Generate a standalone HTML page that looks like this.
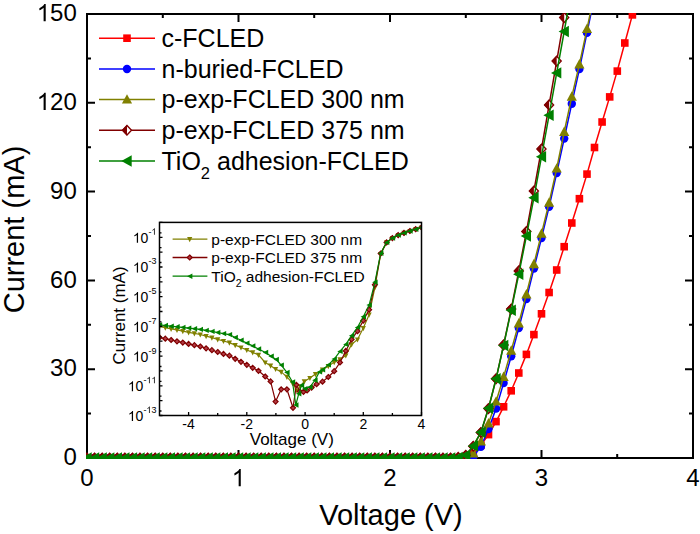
<!DOCTYPE html><html><head><meta charset="utf-8"><style>html,body{margin:0;padding:0;background:#fff;width:700px;height:534px;overflow:hidden}svg{display:block}text{font-family:"Liberation Sans",sans-serif;fill:#000}</style></head><body>
<svg width="700" height="534" viewBox="0 0 700 534">
<defs><clipPath id="cp"><rect x="86" y="13" width="608" height="446"/></clipPath><clipPath id="ci"><rect x="160" y="223" width="261" height="192"/></clipPath></defs>
<rect width="700" height="534" fill="#fff"/>
<g stroke="#000" stroke-width="2" fill="none" stroke-linecap="square">
<rect x="87" y="14" width="606" height="444"/>
<path stroke-linecap="butt" d="M87 458.0h8M693 458.0h-8M87 369.2h8M693 369.2h-8M87 280.4h8M693 280.4h-8M87 191.6h8M693 191.6h-8M87 102.8h8M693 102.8h-8M87 14.0h8M693 14.0h-8M87 413.6h4M693 413.6h-4M87 324.8h4M693 324.8h-4M87 236.0h4M693 236.0h-4M87 147.2h4M693 147.2h-4M87 58.4h4M693 58.4h-4M87.0 458v-8M87.0 14v8M238.5 458v-8M238.5 14v8M390.0 458v-8M390.0 14v8M541.5 458v-8M541.5 14v8M693.0 458v-8M693.0 14v8M162.8 458v-4M162.8 14v4M314.2 458v-4M314.2 14v4M465.8 458v-4M465.8 14v4M617.2 458v-4M617.2 14v4"/>
</g>
<g>
<text x="63.46" y="465.20" font-size="24">0</text>
<text x="50.11" y="376.40" font-size="24">30</text>
<text x="50.11" y="287.60" font-size="24">60</text>
<text x="50.11" y="198.80" font-size="24">90</text>
<path transform="translate(36.77 110.00) scale(0.01172 -0.01172)" d="M763 0L583 0L583 1147Q518 1085 412 1023Q306 961 221 930L221 1104Q372 1175 485 1276Q598 1377 645 1472L763 1472Z"/><text x="50.11" y="110.00" font-size="24">20</text>
<path transform="translate(36.77 21.20) scale(0.01172 -0.01172)" d="M763 0L583 0L583 1147Q518 1085 412 1023Q306 961 221 930L221 1104Q372 1175 485 1276Q598 1377 645 1472L763 1472Z"/><text x="50.11" y="21.20" font-size="24">50</text>
<text x="80.33" y="486.30" font-size="24">0</text>
<path transform="translate(231.83 486.30) scale(0.01172 -0.01172)" d="M763 0L583 0L583 1147Q518 1085 412 1023Q306 961 221 930L221 1104Q372 1175 485 1276Q598 1377 645 1472L763 1472Z"/>
<text x="383.33" y="486.30" font-size="24">2</text>
<text x="534.83" y="486.30" font-size="24">3</text>
<text x="686.33" y="486.30" font-size="24">4</text>
</g>
<text font-size="29" x="391" y="524.8" text-anchor="middle">Voltage (V)</text>
<text font-size="29" transform="translate(24.2 229.5) rotate(-90)" text-anchor="middle">Current (mA)</text>
<rect x="159.5" y="222.4" width="262.0" height="193.1" fill="#fff"/>
<g clip-path="url(#ci)">
<polyline points="159.5,326.6 165.3,327.7 171.1,328.9 177.0,330.0 182.8,331.1 188.6,332.3 194.4,333.4 200.3,334.5 206.1,336.1 211.9,337.7 217.7,339.4 223.5,341.0 229.4,342.6 235.2,345.1 241.0,347.5 246.8,350.0 252.7,352.4 258.5,354.9 265.2,362.5 270.6,365.7 275.6,369.0 281.2,371.9 286.9,376.9 292.5,383.1 296.8,390.5 300.2,386.5 304.3,381.4 309.9,378.0 315.5,374.1 322.5,369.7 328.3,366.2 334.2,362.1 340.0,359.4 345.8,355.5 351.6,344.4 357.5,339.5 363.3,328.1 369.1,314.7 374.9,287.5 380.7,254.0 386.6,242.4 392.4,238.1 398.2,235.1 404.0,232.9 409.9,231.0 415.7,229.2 421.5,227.5" fill="none" stroke="#808000" stroke-width="1.2" stroke-linejoin="round"/>
<path d="M156.9 324.5L162.1 324.5L159.5 329.7Z" fill="#808000"/><path d="M162.7 325.6L167.9 325.6L165.3 330.8Z" fill="#808000"/><path d="M168.5 326.8L173.7 326.8L171.1 332.0Z" fill="#808000"/><path d="M174.4 327.9L179.6 327.9L177.0 333.1Z" fill="#808000"/><path d="M180.2 329.0L185.4 329.0L182.8 334.2Z" fill="#808000"/><path d="M186.0 330.2L191.2 330.2L188.6 335.4Z" fill="#808000"/><path d="M191.8 331.3L197.0 331.3L194.4 336.5Z" fill="#808000"/><path d="M197.7 332.4L202.9 332.4L200.3 337.6Z" fill="#808000"/><path d="M203.5 334.0L208.7 334.0L206.1 339.2Z" fill="#808000"/><path d="M209.3 335.6L214.5 335.6L211.9 340.8Z" fill="#808000"/><path d="M215.1 337.3L220.3 337.3L217.7 342.5Z" fill="#808000"/><path d="M220.9 338.9L226.1 338.9L223.5 344.1Z" fill="#808000"/><path d="M226.8 340.5L232.0 340.5L229.4 345.7Z" fill="#808000"/><path d="M232.6 343.0L237.8 343.0L235.2 348.2Z" fill="#808000"/><path d="M238.4 345.4L243.6 345.4L241.0 350.6Z" fill="#808000"/><path d="M244.2 347.9L249.4 347.9L246.8 353.1Z" fill="#808000"/><path d="M250.1 350.3L255.3 350.3L252.7 355.5Z" fill="#808000"/><path d="M255.9 352.8L261.1 352.8L258.5 358.0Z" fill="#808000"/><path d="M262.6 360.4L267.8 360.4L265.2 365.6Z" fill="#808000"/><path d="M268.0 363.6L273.2 363.6L270.6 368.8Z" fill="#808000"/><path d="M273.0 366.9L278.2 366.9L275.6 372.1Z" fill="#808000"/><path d="M278.6 369.8L283.8 369.8L281.2 375.0Z" fill="#808000"/><path d="M284.3 374.8L289.5 374.8L286.9 380.0Z" fill="#808000"/><path d="M289.9 381.0L295.1 381.0L292.5 386.2Z" fill="#808000"/><path d="M294.2 388.4L299.4 388.4L296.8 393.6Z" fill="#808000"/><path d="M297.6 384.4L302.8 384.4L300.2 389.6Z" fill="#808000"/><path d="M301.7 379.3L306.9 379.3L304.3 384.5Z" fill="#808000"/><path d="M307.3 375.9L312.5 375.9L309.9 381.1Z" fill="#808000"/><path d="M312.9 372.0L318.1 372.0L315.5 377.2Z" fill="#808000"/><path d="M319.9 367.6L325.1 367.6L322.5 372.8Z" fill="#808000"/><path d="M325.7 364.1L330.9 364.1L328.3 369.3Z" fill="#808000"/><path d="M331.6 360.0L336.8 360.0L334.2 365.2Z" fill="#808000"/><path d="M337.4 357.3L342.6 357.3L340.0 362.5Z" fill="#808000"/><path d="M343.2 353.4L348.4 353.4L345.8 358.6Z" fill="#808000"/><path d="M349.0 342.3L354.2 342.3L351.6 347.5Z" fill="#808000"/><path d="M354.9 337.4L360.1 337.4L357.5 342.6Z" fill="#808000"/><path d="M360.7 326.0L365.9 326.0L363.3 331.2Z" fill="#808000"/><path d="M366.5 312.6L371.7 312.6L369.1 317.8Z" fill="#808000"/><path d="M372.3 285.4L377.5 285.4L374.9 290.6Z" fill="#808000"/><path d="M378.1 251.9L383.3 251.9L380.7 257.1Z" fill="#808000"/><path d="M384.0 240.3L389.2 240.3L386.6 245.5Z" fill="#808000"/><path d="M389.8 236.0L395.0 236.0L392.4 241.2Z" fill="#808000"/><path d="M395.6 233.0L400.8 233.0L398.2 238.2Z" fill="#808000"/><path d="M401.4 230.8L406.6 230.8L404.0 236.0Z" fill="#808000"/><path d="M407.3 228.9L412.5 228.9L409.9 234.1Z" fill="#808000"/><path d="M413.1 227.1L418.3 227.1L415.7 232.3Z" fill="#808000"/><path d="M418.9 225.4L424.1 225.4L421.5 230.6Z" fill="#808000"/>
<polyline points="159.5,337.4 165.3,338.7 171.1,340.0 177.0,341.3 182.8,342.6 188.6,343.9 194.4,345.2 200.3,346.5 206.1,348.3 211.9,350.2 217.7,352.0 223.5,353.9 229.4,355.7 235.2,358.8 241.0,361.8 246.8,364.8 252.7,367.8 258.5,370.8 265.2,376.5 270.6,381.4 275.6,401.6 281.2,389.3 286.9,389.3 293.0,407.8 296.4,384.8 299.8,391.5 303.5,391.8 307.1,390.4 311.6,387.6 316.6,384.2 322.5,381.7 328.3,377.0 334.2,371.2 340.0,362.5 345.8,350.9 351.6,339.4 357.5,331.2 363.3,320.6 369.1,309.7 374.9,284.7 380.7,253.5 386.6,242.4 392.4,238.1 398.2,235.1 404.0,232.9 409.9,231.0 415.7,229.2 421.5,227.5" fill="none" stroke="#800000" stroke-width="1.2" stroke-linejoin="round"/>
<path d="M159.5 334.9L162.0 337.4L159.5 339.9L157.0 337.4Z" fill="#b23a44" stroke="#800000" stroke-width="1.2"/><path d="M165.3 336.2L167.8 338.7L165.3 341.2L162.8 338.7Z" fill="#b23a44" stroke="#800000" stroke-width="1.2"/><path d="M171.1 337.5L173.6 340.0L171.1 342.5L168.6 340.0Z" fill="#b23a44" stroke="#800000" stroke-width="1.2"/><path d="M177.0 338.8L179.5 341.3L177.0 343.8L174.5 341.3Z" fill="#b23a44" stroke="#800000" stroke-width="1.2"/><path d="M182.8 340.1L185.3 342.6L182.8 345.1L180.3 342.6Z" fill="#b23a44" stroke="#800000" stroke-width="1.2"/><path d="M188.6 341.4L191.1 343.9L188.6 346.4L186.1 343.9Z" fill="#b23a44" stroke="#800000" stroke-width="1.2"/><path d="M194.4 342.7L196.9 345.2L194.4 347.7L191.9 345.2Z" fill="#b23a44" stroke="#800000" stroke-width="1.2"/><path d="M200.3 344.0L202.8 346.5L200.3 349.0L197.8 346.5Z" fill="#b23a44" stroke="#800000" stroke-width="1.2"/><path d="M206.1 345.8L208.6 348.3L206.1 350.8L203.6 348.3Z" fill="#b23a44" stroke="#800000" stroke-width="1.2"/><path d="M211.9 347.7L214.4 350.2L211.9 352.7L209.4 350.2Z" fill="#b23a44" stroke="#800000" stroke-width="1.2"/><path d="M217.7 349.5L220.2 352.0L217.7 354.5L215.2 352.0Z" fill="#b23a44" stroke="#800000" stroke-width="1.2"/><path d="M223.5 351.4L226.0 353.9L223.5 356.4L221.0 353.9Z" fill="#b23a44" stroke="#800000" stroke-width="1.2"/><path d="M229.4 353.2L231.9 355.7L229.4 358.2L226.9 355.7Z" fill="#b23a44" stroke="#800000" stroke-width="1.2"/><path d="M235.2 356.3L237.7 358.8L235.2 361.3L232.7 358.8Z" fill="#b23a44" stroke="#800000" stroke-width="1.2"/><path d="M241.0 359.3L243.5 361.8L241.0 364.3L238.5 361.8Z" fill="#b23a44" stroke="#800000" stroke-width="1.2"/><path d="M246.8 362.3L249.3 364.8L246.8 367.3L244.3 364.8Z" fill="#b23a44" stroke="#800000" stroke-width="1.2"/><path d="M252.7 365.3L255.2 367.8L252.7 370.3L250.2 367.8Z" fill="#b23a44" stroke="#800000" stroke-width="1.2"/><path d="M258.5 368.3L261.0 370.8L258.5 373.3L256.0 370.8Z" fill="#b23a44" stroke="#800000" stroke-width="1.2"/><path d="M265.2 374.0L267.7 376.5L265.2 379.0L262.7 376.5Z" fill="#b23a44" stroke="#800000" stroke-width="1.2"/><path d="M270.6 378.9L273.1 381.4L270.6 383.9L268.1 381.4Z" fill="#b23a44" stroke="#800000" stroke-width="1.2"/><path d="M275.6 399.1L278.1 401.6L275.6 404.1L273.1 401.6Z" fill="#b23a44" stroke="#800000" stroke-width="1.2"/><path d="M281.2 386.8L283.7 389.3L281.2 391.8L278.7 389.3Z" fill="#b23a44" stroke="#800000" stroke-width="1.2"/><path d="M286.9 386.8L289.4 389.3L286.9 391.8L284.4 389.3Z" fill="#b23a44" stroke="#800000" stroke-width="1.2"/><path d="M293.0 405.3L295.5 407.8L293.0 410.3L290.5 407.8Z" fill="#b23a44" stroke="#800000" stroke-width="1.2"/><path d="M296.4 382.3L298.9 384.8L296.4 387.3L293.9 384.8Z" fill="#b23a44" stroke="#800000" stroke-width="1.2"/><path d="M299.8 389.0L302.3 391.5L299.8 394.0L297.3 391.5Z" fill="#b23a44" stroke="#800000" stroke-width="1.2"/><path d="M303.5 389.3L306.0 391.8L303.5 394.3L301.0 391.8Z" fill="#b23a44" stroke="#800000" stroke-width="1.2"/><path d="M307.1 387.9L309.6 390.4L307.1 392.9L304.6 390.4Z" fill="#b23a44" stroke="#800000" stroke-width="1.2"/><path d="M311.6 385.1L314.1 387.6L311.6 390.1L309.1 387.6Z" fill="#b23a44" stroke="#800000" stroke-width="1.2"/><path d="M316.6 381.7L319.1 384.2L316.6 386.7L314.1 384.2Z" fill="#b23a44" stroke="#800000" stroke-width="1.2"/><path d="M322.5 379.2L325.0 381.7L322.5 384.2L320.0 381.7Z" fill="#b23a44" stroke="#800000" stroke-width="1.2"/><path d="M328.3 374.5L330.8 377.0L328.3 379.5L325.8 377.0Z" fill="#b23a44" stroke="#800000" stroke-width="1.2"/><path d="M334.2 368.7L336.7 371.2L334.2 373.7L331.7 371.2Z" fill="#b23a44" stroke="#800000" stroke-width="1.2"/><path d="M340.0 360.0L342.5 362.5L340.0 365.0L337.5 362.5Z" fill="#b23a44" stroke="#800000" stroke-width="1.2"/><path d="M345.8 348.4L348.3 350.9L345.8 353.4L343.3 350.9Z" fill="#b23a44" stroke="#800000" stroke-width="1.2"/><path d="M351.6 336.9L354.1 339.4L351.6 341.9L349.1 339.4Z" fill="#b23a44" stroke="#800000" stroke-width="1.2"/><path d="M357.5 328.7L360.0 331.2L357.5 333.7L355.0 331.2Z" fill="#b23a44" stroke="#800000" stroke-width="1.2"/><path d="M363.3 318.1L365.8 320.6L363.3 323.1L360.8 320.6Z" fill="#b23a44" stroke="#800000" stroke-width="1.2"/><path d="M369.1 307.2L371.6 309.7L369.1 312.2L366.6 309.7Z" fill="#b23a44" stroke="#800000" stroke-width="1.2"/><path d="M374.9 282.2L377.4 284.7L374.9 287.2L372.4 284.7Z" fill="#b23a44" stroke="#800000" stroke-width="1.2"/><path d="M380.7 251.0L383.2 253.5L380.7 256.0L378.2 253.5Z" fill="#b23a44" stroke="#800000" stroke-width="1.2"/><path d="M386.6 239.9L389.1 242.4L386.6 244.9L384.1 242.4Z" fill="#b23a44" stroke="#800000" stroke-width="1.2"/><path d="M392.4 235.6L394.9 238.1L392.4 240.6L389.9 238.1Z" fill="#b23a44" stroke="#800000" stroke-width="1.2"/><path d="M398.2 232.6L400.7 235.1L398.2 237.6L395.7 235.1Z" fill="#b23a44" stroke="#800000" stroke-width="1.2"/><path d="M404.0 230.4L406.5 232.9L404.0 235.4L401.5 232.9Z" fill="#b23a44" stroke="#800000" stroke-width="1.2"/><path d="M409.9 228.5L412.4 231.0L409.9 233.5L407.4 231.0Z" fill="#b23a44" stroke="#800000" stroke-width="1.2"/><path d="M415.7 226.7L418.2 229.2L415.7 231.7L413.2 229.2Z" fill="#b23a44" stroke="#800000" stroke-width="1.2"/><path d="M421.5 225.0L424.0 227.5L421.5 230.0L419.0 227.5Z" fill="#b23a44" stroke="#800000" stroke-width="1.2"/>
<polyline points="159.5,324.9 165.3,325.5 171.1,326.2 177.0,326.8 182.8,327.4 188.6,328.1 194.4,328.7 200.3,329.4 206.1,330.4 211.9,331.4 217.7,332.5 223.5,333.6 229.4,334.6 235.2,337.5 241.0,340.3 246.8,343.1 252.7,345.9 258.5,349.0 265.5,352.5 271.1,356.2 276.2,359.5 281.2,365.1 286.9,372.4 292.5,382.0 295.8,405.0 298.7,393.8 301.5,385.3 304.8,388.7 309.9,387.0 314.9,380.3 319.4,371.9 322.5,369.8 328.3,364.9 334.2,359.1 340.0,351.4 345.8,344.4 351.6,335.7 357.5,327.4 363.3,316.8 369.1,305.1 374.9,282.3 380.7,253.2 386.6,242.4 392.4,238.1 398.2,235.1 404.0,232.9 409.9,231.0 415.7,229.2 421.5,227.5" fill="none" stroke="#008000" stroke-width="1.2" stroke-linejoin="round"/>
<path d="M156.8 324.9L162.2 322.2L162.2 327.6Z" fill="#008000"/><path d="M162.6 325.5L168.0 322.8L168.0 328.2Z" fill="#008000"/><path d="M168.4 326.2L173.8 323.5L173.8 328.9Z" fill="#008000"/><path d="M174.3 326.8L179.7 324.1L179.7 329.5Z" fill="#008000"/><path d="M180.1 327.4L185.5 324.7L185.5 330.1Z" fill="#008000"/><path d="M185.9 328.1L191.3 325.4L191.3 330.8Z" fill="#008000"/><path d="M191.7 328.7L197.1 326.0L197.1 331.4Z" fill="#008000"/><path d="M197.6 329.4L203.0 326.7L203.0 332.1Z" fill="#008000"/><path d="M203.4 330.4L208.8 327.7L208.8 333.1Z" fill="#008000"/><path d="M209.2 331.4L214.6 328.7L214.6 334.1Z" fill="#008000"/><path d="M215.0 332.5L220.4 329.8L220.4 335.2Z" fill="#008000"/><path d="M220.8 333.6L226.2 330.9L226.2 336.3Z" fill="#008000"/><path d="M226.7 334.6L232.1 331.9L232.1 337.3Z" fill="#008000"/><path d="M232.5 337.5L237.9 334.8L237.9 340.2Z" fill="#008000"/><path d="M238.3 340.3L243.7 337.6L243.7 343.0Z" fill="#008000"/><path d="M244.1 343.1L249.5 340.4L249.5 345.8Z" fill="#008000"/><path d="M250.0 345.9L255.4 343.2L255.4 348.6Z" fill="#008000"/><path d="M255.8 349.0L261.2 346.3L261.2 351.7Z" fill="#008000"/><path d="M262.8 352.5L268.2 349.8L268.2 355.2Z" fill="#008000"/><path d="M268.4 356.2L273.8 353.5L273.8 358.9Z" fill="#008000"/><path d="M273.5 359.5L278.9 356.8L278.9 362.2Z" fill="#008000"/><path d="M278.5 365.1L283.9 362.4L283.9 367.8Z" fill="#008000"/><path d="M284.2 372.4L289.6 369.7L289.6 375.1Z" fill="#008000"/><path d="M289.8 382.0L295.2 379.3L295.2 384.7Z" fill="#008000"/><path d="M293.1 405.0L298.5 402.3L298.5 407.7Z" fill="#008000"/><path d="M296.0 393.8L301.4 391.1L301.4 396.5Z" fill="#008000"/><path d="M298.8 385.3L304.2 382.6L304.2 388.0Z" fill="#008000"/><path d="M302.1 388.7L307.5 386.0L307.5 391.4Z" fill="#008000"/><path d="M307.2 387.0L312.6 384.3L312.6 389.7Z" fill="#008000"/><path d="M312.2 380.3L317.6 377.6L317.6 383.0Z" fill="#008000"/><path d="M316.7 371.9L322.1 369.2L322.1 374.6Z" fill="#008000"/><path d="M319.8 369.8L325.2 367.1L325.2 372.5Z" fill="#008000"/><path d="M325.6 364.9L331.0 362.2L331.0 367.6Z" fill="#008000"/><path d="M331.5 359.1L336.9 356.4L336.9 361.8Z" fill="#008000"/><path d="M337.3 351.4L342.7 348.7L342.7 354.1Z" fill="#008000"/><path d="M343.1 344.4L348.5 341.7L348.5 347.1Z" fill="#008000"/><path d="M348.9 335.7L354.3 333.0L354.3 338.4Z" fill="#008000"/><path d="M354.8 327.4L360.2 324.7L360.2 330.1Z" fill="#008000"/><path d="M360.6 316.8L366.0 314.1L366.0 319.5Z" fill="#008000"/><path d="M366.4 305.1L371.8 302.4L371.8 307.8Z" fill="#008000"/><path d="M372.2 282.3L377.6 279.6L377.6 285.0Z" fill="#008000"/><path d="M378.0 253.2L383.4 250.5L383.4 255.9Z" fill="#008000"/><path d="M383.9 242.4L389.3 239.7L389.3 245.1Z" fill="#008000"/><path d="M389.7 238.1L395.1 235.4L395.1 240.8Z" fill="#008000"/><path d="M395.5 235.1L400.9 232.4L400.9 237.8Z" fill="#008000"/><path d="M401.3 232.9L406.7 230.2L406.7 235.6Z" fill="#008000"/><path d="M407.2 231.0L412.6 228.3L412.6 233.7Z" fill="#008000"/><path d="M413.0 229.2L418.4 226.5L418.4 231.9Z" fill="#008000"/><path d="M418.8 227.5L424.2 224.8L424.2 230.2Z" fill="#008000"/>
</g>
<path d="M159.5 222.4h3M159.5 232.8h2M159.5 237.3h3M159.5 247.6h2M159.5 252.1h3M159.5 262.5h2M159.5 267.0h3M159.5 277.3h2M159.5 281.8h3M159.5 292.2h2M159.5 296.7h3M159.5 307.1h2M159.5 311.5h3M159.5 321.9h2M159.5 326.4h3M159.5 336.8h2M159.5 341.2h3M159.5 351.6h2M159.5 356.1h3M159.5 366.5h2M159.5 370.9h3M159.5 381.3h2M159.5 385.8h3M159.5 396.2h2M159.5 400.6h3M159.5 411.0h2M159.5 415.5h3M188.6 415.5v-3.5M246.8 415.5v-3.5M305.1 415.5v-3.5M363.3 415.5v-3.5M421.5 415.5v-3.5M217.7 415.5v-2.5M275.9 415.5v-2.5M334.2 415.5v-2.5M392.4 415.5v-2.5" stroke="#000" stroke-width="1.3" fill="none"/>
<rect x="159.5" y="222.4" width="262.0" height="193.1" fill="none" stroke="#000" stroke-width="1.5"/>
<g font-size="14">
<path transform="translate(132.83 242.75) scale(0.00684 -0.00684)" d="M763 0L583 0L583 1147Q518 1085 412 1023Q306 961 221 930L221 1104Q372 1175 485 1276Q598 1377 645 1472L763 1472Z"/><text x="140.62" y="242.75" font-size="14">0</text><text x="148.40" y="234.75" font-size="9">-</text><path transform="translate(151.40 234.75) scale(0.00439 -0.00439)" d="M763 0L583 0L583 1147Q518 1085 412 1023Q306 961 221 930L221 1104Q372 1175 485 1276Q598 1377 645 1472L763 1472Z"/>
<path transform="translate(132.83 272.46) scale(0.00684 -0.00684)" d="M763 0L583 0L583 1147Q518 1085 412 1023Q306 961 221 930L221 1104Q372 1175 485 1276Q598 1377 645 1472L763 1472Z"/><text x="140.62" y="272.46" font-size="14">0</text><text x="148.40" y="264.46" font-size="9">-3</text>
<path transform="translate(132.83 302.17) scale(0.00684 -0.00684)" d="M763 0L583 0L583 1147Q518 1085 412 1023Q306 961 221 930L221 1104Q372 1175 485 1276Q598 1377 645 1472L763 1472Z"/><text x="140.62" y="302.17" font-size="14">0</text><text x="148.40" y="294.17" font-size="9">-5</text>
<path transform="translate(132.83 331.88) scale(0.00684 -0.00684)" d="M763 0L583 0L583 1147Q518 1085 412 1023Q306 961 221 930L221 1104Q372 1175 485 1276Q598 1377 645 1472L763 1472Z"/><text x="140.62" y="331.88" font-size="14">0</text><text x="148.40" y="323.88" font-size="9">-7</text>
<path transform="translate(132.83 361.58) scale(0.00684 -0.00684)" d="M763 0L583 0L583 1147Q518 1085 412 1023Q306 961 221 930L221 1104Q372 1175 485 1276Q598 1377 645 1472L763 1472Z"/><text x="140.62" y="361.58" font-size="14">0</text><text x="148.40" y="353.58" font-size="9">-9</text>
<path transform="translate(127.83 391.29) scale(0.00684 -0.00684)" d="M763 0L583 0L583 1147Q518 1085 412 1023Q306 961 221 930L221 1104Q372 1175 485 1276Q598 1377 645 1472L763 1472Z"/><text x="135.61" y="391.29" font-size="14">0</text><text x="143.39" y="383.29" font-size="9">-</text><path transform="translate(146.39 383.29) scale(0.00439 -0.00439)" d="M763 0L583 0L583 1147Q518 1085 412 1023Q306 961 221 930L221 1104Q372 1175 485 1276Q598 1377 645 1472L763 1472Z"/><path transform="translate(151.40 383.29) scale(0.00439 -0.00439)" d="M763 0L583 0L583 1147Q518 1085 412 1023Q306 961 221 930L221 1104Q372 1175 485 1276Q598 1377 645 1472L763 1472Z"/>
<path transform="translate(127.83 421.00) scale(0.00684 -0.00684)" d="M763 0L583 0L583 1147Q518 1085 412 1023Q306 961 221 930L221 1104Q372 1175 485 1276Q598 1377 645 1472L763 1472Z"/><text x="135.61" y="421.00" font-size="14">0</text><text x="143.39" y="413.00" font-size="9">-</text><path transform="translate(146.39 413.00) scale(0.00439 -0.00439)" d="M763 0L583 0L583 1147Q518 1085 412 1023Q306 961 221 930L221 1104Q372 1175 485 1276Q598 1377 645 1472L763 1472Z"/><text x="151.40" y="413.00" font-size="9">3</text>
<text x="188.6" y="428.6" text-anchor="middle">-4</text>
<text x="246.8" y="428.6" text-anchor="middle">-2</text>
<text x="305.1" y="428.6" text-anchor="middle">0</text>
<text x="363.3" y="428.6" text-anchor="middle">2</text>
<text x="421.5" y="428.6" text-anchor="middle">4</text>
</g>
<text font-size="17" x="291.8" y="444.7" text-anchor="middle">Voltage (V)</text>
<text font-size="17" transform="translate(125.4 315.5) rotate(-90)" text-anchor="middle">Current (mA)</text>
<path d="M172.6 239.1H207.4" stroke="#808000" stroke-width="1.3"/>
<path d="M187.1 237.0L192.3 237.0L189.7 242.2Z" fill="#808000"/>
<text font-size="15.5" x="211.3" y="244.6">p-exp-FCLED 300 nm</text>
<path d="M172.6 257.5H207.4" stroke="#800000" stroke-width="1.3"/>
<path d="M189.7 255.0L192.2 257.5L189.7 260.0L187.2 257.5Z" fill="#b23a44" stroke="#800000" stroke-width="1.2"/>
<text font-size="15.5" x="211.3" y="263.0">p-exp-FCLED 375 nm</text>
<path d="M172.6 276.2H207.4" stroke="#008000" stroke-width="1.3"/>
<path d="M187.0 276.2L192.4 273.5L192.4 278.9Z" fill="#008000"/>
<text font-size="15.5" x="211.3" y="281.7">TiO<tspan font-size="10.5" dy="5">2</tspan><tspan dy="-5"> adhesion-FCLED</tspan></text>
<g clip-path="url(#cp)">
<polyline points="87.0,458.0 94.6,458.0 102.2,458.0 109.7,458.0 117.3,458.0 124.9,458.0 132.5,458.0 140.0,458.0 147.6,458.0 155.2,458.0 162.8,458.0 170.3,458.0 177.9,458.0 185.5,458.0 193.1,458.0 200.6,458.0 208.2,458.0 215.8,458.0 223.3,458.0 230.9,458.0 238.5,458.0 246.1,458.0 253.7,458.0 261.2,458.0 268.8,458.0 276.4,458.0 284.0,458.0 291.5,458.0 299.1,458.0 306.7,458.0 314.2,458.0 321.8,458.0 329.4,458.0 337.0,458.0 344.6,458.0 352.1,458.0 359.7,458.0 367.3,458.0 374.9,458.0 382.4,458.0 390.0,458.0 397.6,458.0 405.2,458.0 412.7,458.0 420.3,458.0 427.9,458.0 435.5,458.0 443.0,458.0 450.6,458.0 458.2,457.7 465.8,456.8 473.3,453.3 480.9,445.3 488.5,434.6 496.1,421.6 503.6,406.8 511.2,390.8 518.8,373.0 526.4,354.4 533.9,334.6 541.5,313.8 549.1,292.5 556.7,270.0 564.2,246.7 571.8,223.0 579.4,198.7 587.0,174.1 594.5,147.5 602.1,122.0 609.7,96.9 617.2,71.1 624.8,43.0 632.4,14.9 640.0,-14.1" fill="none" stroke="#ff0000" stroke-width="1.5" stroke-linejoin="round"/>
<rect x="83.2" y="454.2" width="7.6" height="7.6" fill="#ff0000"/><rect x="90.8" y="454.2" width="7.6" height="7.6" fill="#ff0000"/><rect x="98.4" y="454.2" width="7.6" height="7.6" fill="#ff0000"/><rect x="105.9" y="454.2" width="7.6" height="7.6" fill="#ff0000"/><rect x="113.5" y="454.2" width="7.6" height="7.6" fill="#ff0000"/><rect x="121.1" y="454.2" width="7.6" height="7.6" fill="#ff0000"/><rect x="128.7" y="454.2" width="7.6" height="7.6" fill="#ff0000"/><rect x="136.2" y="454.2" width="7.6" height="7.6" fill="#ff0000"/><rect x="143.8" y="454.2" width="7.6" height="7.6" fill="#ff0000"/><rect x="151.4" y="454.2" width="7.6" height="7.6" fill="#ff0000"/><rect x="158.9" y="454.2" width="7.6" height="7.6" fill="#ff0000"/><rect x="166.5" y="454.2" width="7.6" height="7.6" fill="#ff0000"/><rect x="174.1" y="454.2" width="7.6" height="7.6" fill="#ff0000"/><rect x="181.7" y="454.2" width="7.6" height="7.6" fill="#ff0000"/><rect x="189.2" y="454.2" width="7.6" height="7.6" fill="#ff0000"/><rect x="196.8" y="454.2" width="7.6" height="7.6" fill="#ff0000"/><rect x="204.4" y="454.2" width="7.6" height="7.6" fill="#ff0000"/><rect x="212.0" y="454.2" width="7.6" height="7.6" fill="#ff0000"/><rect x="219.5" y="454.2" width="7.6" height="7.6" fill="#ff0000"/><rect x="227.1" y="454.2" width="7.6" height="7.6" fill="#ff0000"/><rect x="234.7" y="454.2" width="7.6" height="7.6" fill="#ff0000"/><rect x="242.3" y="454.2" width="7.6" height="7.6" fill="#ff0000"/><rect x="249.8" y="454.2" width="7.6" height="7.6" fill="#ff0000"/><rect x="257.4" y="454.2" width="7.6" height="7.6" fill="#ff0000"/><rect x="265.0" y="454.2" width="7.6" height="7.6" fill="#ff0000"/><rect x="272.6" y="454.2" width="7.6" height="7.6" fill="#ff0000"/><rect x="280.2" y="454.2" width="7.6" height="7.6" fill="#ff0000"/><rect x="287.7" y="454.2" width="7.6" height="7.6" fill="#ff0000"/><rect x="295.3" y="454.2" width="7.6" height="7.6" fill="#ff0000"/><rect x="302.9" y="454.2" width="7.6" height="7.6" fill="#ff0000"/><rect x="310.4" y="454.2" width="7.6" height="7.6" fill="#ff0000"/><rect x="318.0" y="454.2" width="7.6" height="7.6" fill="#ff0000"/><rect x="325.6" y="454.2" width="7.6" height="7.6" fill="#ff0000"/><rect x="333.2" y="454.2" width="7.6" height="7.6" fill="#ff0000"/><rect x="340.8" y="454.2" width="7.6" height="7.6" fill="#ff0000"/><rect x="348.3" y="454.2" width="7.6" height="7.6" fill="#ff0000"/><rect x="355.9" y="454.2" width="7.6" height="7.6" fill="#ff0000"/><rect x="363.5" y="454.2" width="7.6" height="7.6" fill="#ff0000"/><rect x="371.1" y="454.2" width="7.6" height="7.6" fill="#ff0000"/><rect x="378.6" y="454.2" width="7.6" height="7.6" fill="#ff0000"/><rect x="386.2" y="454.2" width="7.6" height="7.6" fill="#ff0000"/><rect x="393.8" y="454.2" width="7.6" height="7.6" fill="#ff0000"/><rect x="401.4" y="454.2" width="7.6" height="7.6" fill="#ff0000"/><rect x="408.9" y="454.2" width="7.6" height="7.6" fill="#ff0000"/><rect x="416.5" y="454.2" width="7.6" height="7.6" fill="#ff0000"/><rect x="424.1" y="454.2" width="7.6" height="7.6" fill="#ff0000"/><rect x="431.7" y="454.2" width="7.6" height="7.6" fill="#ff0000"/><rect x="439.2" y="454.2" width="7.6" height="7.6" fill="#ff0000"/><rect x="446.8" y="454.2" width="7.6" height="7.6" fill="#ff0000"/><rect x="454.4" y="453.9" width="7.6" height="7.6" fill="#ff0000"/><rect x="461.9" y="453.0" width="7.6" height="7.6" fill="#ff0000"/><rect x="469.5" y="449.5" width="7.6" height="7.6" fill="#ff0000"/><rect x="477.1" y="441.5" width="7.6" height="7.6" fill="#ff0000"/><rect x="484.7" y="430.8" width="7.6" height="7.6" fill="#ff0000"/><rect x="492.2" y="417.8" width="7.6" height="7.6" fill="#ff0000"/><rect x="499.8" y="403.0" width="7.6" height="7.6" fill="#ff0000"/><rect x="507.4" y="387.0" width="7.6" height="7.6" fill="#ff0000"/><rect x="515.0" y="369.2" width="7.6" height="7.6" fill="#ff0000"/><rect x="522.6" y="350.6" width="7.6" height="7.6" fill="#ff0000"/><rect x="530.1" y="330.8" width="7.6" height="7.6" fill="#ff0000"/><rect x="537.7" y="310.0" width="7.6" height="7.6" fill="#ff0000"/><rect x="545.3" y="288.7" width="7.6" height="7.6" fill="#ff0000"/><rect x="552.9" y="266.2" width="7.6" height="7.6" fill="#ff0000"/><rect x="560.4" y="242.9" width="7.6" height="7.6" fill="#ff0000"/><rect x="568.0" y="219.2" width="7.6" height="7.6" fill="#ff0000"/><rect x="575.6" y="194.9" width="7.6" height="7.6" fill="#ff0000"/><rect x="583.2" y="170.3" width="7.6" height="7.6" fill="#ff0000"/><rect x="590.7" y="143.7" width="7.6" height="7.6" fill="#ff0000"/><rect x="598.3" y="118.2" width="7.6" height="7.6" fill="#ff0000"/><rect x="605.9" y="93.1" width="7.6" height="7.6" fill="#ff0000"/><rect x="613.5" y="67.3" width="7.6" height="7.6" fill="#ff0000"/><rect x="621.0" y="39.2" width="7.6" height="7.6" fill="#ff0000"/><rect x="628.6" y="11.1" width="7.6" height="7.6" fill="#ff0000"/><rect x="636.2" y="-17.9" width="7.6" height="7.6" fill="#ff0000"/>
<polyline points="87.0,458.0 94.6,458.0 102.2,458.0 109.7,458.0 117.3,458.0 124.9,458.0 132.5,458.0 140.0,458.0 147.6,458.0 155.2,458.0 162.8,458.0 170.3,458.0 177.9,458.0 185.5,458.0 193.1,458.0 200.6,458.0 208.2,458.0 215.8,458.0 223.3,458.0 230.9,458.0 238.5,458.0 246.1,458.0 253.7,458.0 261.2,458.0 268.8,458.0 276.4,458.0 284.0,458.0 291.5,458.0 299.1,458.0 306.7,458.0 314.2,458.0 321.8,458.0 329.4,458.0 337.0,458.0 344.6,458.0 352.1,458.0 359.7,458.0 367.3,458.0 374.9,458.0 382.4,458.0 390.0,458.0 397.6,458.0 405.2,458.0 412.7,458.0 420.3,458.0 427.9,458.0 435.5,458.0 443.0,458.0 450.6,458.0 458.2,458.0 465.8,457.9 473.3,456.5 480.9,446.8 488.5,429.0 496.1,408.6 503.6,383.1 511.2,356.2 518.8,328.1 526.4,299.0 533.9,268.6 541.5,238.1 549.1,206.7 556.7,173.0 564.2,138.6 571.8,103.7 579.4,69.1 587.0,32.9 594.5,-3.8" fill="none" stroke="#0000ff" stroke-width="1.5" stroke-linejoin="round"/>
<circle cx="87.0" cy="458.0" r="4.2" fill="#0000ff"/><circle cx="94.6" cy="458.0" r="4.2" fill="#0000ff"/><circle cx="102.2" cy="458.0" r="4.2" fill="#0000ff"/><circle cx="109.7" cy="458.0" r="4.2" fill="#0000ff"/><circle cx="117.3" cy="458.0" r="4.2" fill="#0000ff"/><circle cx="124.9" cy="458.0" r="4.2" fill="#0000ff"/><circle cx="132.5" cy="458.0" r="4.2" fill="#0000ff"/><circle cx="140.0" cy="458.0" r="4.2" fill="#0000ff"/><circle cx="147.6" cy="458.0" r="4.2" fill="#0000ff"/><circle cx="155.2" cy="458.0" r="4.2" fill="#0000ff"/><circle cx="162.8" cy="458.0" r="4.2" fill="#0000ff"/><circle cx="170.3" cy="458.0" r="4.2" fill="#0000ff"/><circle cx="177.9" cy="458.0" r="4.2" fill="#0000ff"/><circle cx="185.5" cy="458.0" r="4.2" fill="#0000ff"/><circle cx="193.1" cy="458.0" r="4.2" fill="#0000ff"/><circle cx="200.6" cy="458.0" r="4.2" fill="#0000ff"/><circle cx="208.2" cy="458.0" r="4.2" fill="#0000ff"/><circle cx="215.8" cy="458.0" r="4.2" fill="#0000ff"/><circle cx="223.3" cy="458.0" r="4.2" fill="#0000ff"/><circle cx="230.9" cy="458.0" r="4.2" fill="#0000ff"/><circle cx="238.5" cy="458.0" r="4.2" fill="#0000ff"/><circle cx="246.1" cy="458.0" r="4.2" fill="#0000ff"/><circle cx="253.7" cy="458.0" r="4.2" fill="#0000ff"/><circle cx="261.2" cy="458.0" r="4.2" fill="#0000ff"/><circle cx="268.8" cy="458.0" r="4.2" fill="#0000ff"/><circle cx="276.4" cy="458.0" r="4.2" fill="#0000ff"/><circle cx="284.0" cy="458.0" r="4.2" fill="#0000ff"/><circle cx="291.5" cy="458.0" r="4.2" fill="#0000ff"/><circle cx="299.1" cy="458.0" r="4.2" fill="#0000ff"/><circle cx="306.7" cy="458.0" r="4.2" fill="#0000ff"/><circle cx="314.2" cy="458.0" r="4.2" fill="#0000ff"/><circle cx="321.8" cy="458.0" r="4.2" fill="#0000ff"/><circle cx="329.4" cy="458.0" r="4.2" fill="#0000ff"/><circle cx="337.0" cy="458.0" r="4.2" fill="#0000ff"/><circle cx="344.6" cy="458.0" r="4.2" fill="#0000ff"/><circle cx="352.1" cy="458.0" r="4.2" fill="#0000ff"/><circle cx="359.7" cy="458.0" r="4.2" fill="#0000ff"/><circle cx="367.3" cy="458.0" r="4.2" fill="#0000ff"/><circle cx="374.9" cy="458.0" r="4.2" fill="#0000ff"/><circle cx="382.4" cy="458.0" r="4.2" fill="#0000ff"/><circle cx="390.0" cy="458.0" r="4.2" fill="#0000ff"/><circle cx="397.6" cy="458.0" r="4.2" fill="#0000ff"/><circle cx="405.2" cy="458.0" r="4.2" fill="#0000ff"/><circle cx="412.7" cy="458.0" r="4.2" fill="#0000ff"/><circle cx="420.3" cy="458.0" r="4.2" fill="#0000ff"/><circle cx="427.9" cy="458.0" r="4.2" fill="#0000ff"/><circle cx="435.5" cy="458.0" r="4.2" fill="#0000ff"/><circle cx="443.0" cy="458.0" r="4.2" fill="#0000ff"/><circle cx="450.6" cy="458.0" r="4.2" fill="#0000ff"/><circle cx="458.2" cy="458.0" r="4.2" fill="#0000ff"/><circle cx="465.8" cy="457.9" r="4.2" fill="#0000ff"/><circle cx="473.3" cy="456.5" r="4.2" fill="#0000ff"/><circle cx="480.9" cy="446.8" r="4.2" fill="#0000ff"/><circle cx="488.5" cy="429.0" r="4.2" fill="#0000ff"/><circle cx="496.1" cy="408.6" r="4.2" fill="#0000ff"/><circle cx="503.6" cy="383.1" r="4.2" fill="#0000ff"/><circle cx="511.2" cy="356.2" r="4.2" fill="#0000ff"/><circle cx="518.8" cy="328.1" r="4.2" fill="#0000ff"/><circle cx="526.4" cy="299.0" r="4.2" fill="#0000ff"/><circle cx="533.9" cy="268.6" r="4.2" fill="#0000ff"/><circle cx="541.5" cy="238.1" r="4.2" fill="#0000ff"/><circle cx="549.1" cy="206.7" r="4.2" fill="#0000ff"/><circle cx="556.7" cy="173.0" r="4.2" fill="#0000ff"/><circle cx="564.2" cy="138.6" r="4.2" fill="#0000ff"/><circle cx="571.8" cy="103.7" r="4.2" fill="#0000ff"/><circle cx="579.4" cy="69.1" r="4.2" fill="#0000ff"/><circle cx="587.0" cy="32.9" r="4.2" fill="#0000ff"/><circle cx="594.5" cy="-3.8" r="4.2" fill="#0000ff"/>
<polyline points="87.0,458.0 94.6,458.0 102.2,458.0 109.7,458.0 117.3,458.0 124.9,458.0 132.5,458.0 140.0,458.0 147.6,458.0 155.2,458.0 162.8,458.0 170.3,458.0 177.9,458.0 185.5,458.0 193.1,458.0 200.6,458.0 208.2,458.0 215.8,458.0 223.3,458.0 230.9,458.0 238.5,458.0 246.1,458.0 253.7,458.0 261.2,458.0 268.8,458.0 276.4,458.0 284.0,458.0 291.5,458.0 299.1,458.0 306.7,458.0 314.2,458.0 321.8,458.0 329.4,458.0 337.0,458.0 344.6,458.0 352.1,458.0 359.7,458.0 367.3,458.0 374.9,458.0 382.4,458.0 390.0,458.0 397.6,458.0 405.2,458.0 412.7,458.0 420.3,458.0 427.9,458.0 435.5,458.0 443.0,458.0 450.6,458.0 458.2,458.0 465.8,457.1 473.3,453.3 480.9,441.4 488.5,423.4 496.1,401.5 503.6,376.9 511.2,350.6 518.8,323.3 526.4,294.3 533.9,264.1 541.5,233.6 549.1,202.6 556.7,168.5 564.2,131.8 571.8,96.6 579.4,64.3 587.0,28.8 594.5,-6.7" fill="none" stroke="#808000" stroke-width="1.5" stroke-linejoin="round"/>
<path d="M87.0 452.7L92.1 462.1L81.9 462.1Z" fill="#808000"/><path d="M94.6 452.7L99.7 462.1L89.5 462.1Z" fill="#808000"/><path d="M102.2 452.7L107.2 462.1L97.1 462.1Z" fill="#808000"/><path d="M109.7 452.7L114.8 462.1L104.6 462.1Z" fill="#808000"/><path d="M117.3 452.7L122.4 462.1L112.2 462.1Z" fill="#808000"/><path d="M124.9 452.7L130.0 462.1L119.8 462.1Z" fill="#808000"/><path d="M132.5 452.7L137.6 462.1L127.4 462.1Z" fill="#808000"/><path d="M140.0 452.7L145.1 462.1L134.9 462.1Z" fill="#808000"/><path d="M147.6 452.7L152.7 462.1L142.5 462.1Z" fill="#808000"/><path d="M155.2 452.7L160.3 462.1L150.1 462.1Z" fill="#808000"/><path d="M162.8 452.7L167.8 462.1L157.7 462.1Z" fill="#808000"/><path d="M170.3 452.7L175.4 462.1L165.2 462.1Z" fill="#808000"/><path d="M177.9 452.7L183.0 462.1L172.8 462.1Z" fill="#808000"/><path d="M185.5 452.7L190.6 462.1L180.4 462.1Z" fill="#808000"/><path d="M193.1 452.7L198.2 462.1L188.0 462.1Z" fill="#808000"/><path d="M200.6 452.7L205.7 462.1L195.5 462.1Z" fill="#808000"/><path d="M208.2 452.7L213.3 462.1L203.1 462.1Z" fill="#808000"/><path d="M215.8 452.7L220.9 462.1L210.7 462.1Z" fill="#808000"/><path d="M223.3 452.7L228.4 462.1L218.2 462.1Z" fill="#808000"/><path d="M230.9 452.7L236.0 462.1L225.8 462.1Z" fill="#808000"/><path d="M238.5 452.7L243.6 462.1L233.4 462.1Z" fill="#808000"/><path d="M246.1 452.7L251.2 462.1L241.0 462.1Z" fill="#808000"/><path d="M253.7 452.7L258.8 462.1L248.6 462.1Z" fill="#808000"/><path d="M261.2 452.7L266.3 462.1L256.1 462.1Z" fill="#808000"/><path d="M268.8 452.7L273.9 462.1L263.7 462.1Z" fill="#808000"/><path d="M276.4 452.7L281.5 462.1L271.3 462.1Z" fill="#808000"/><path d="M284.0 452.7L289.1 462.1L278.9 462.1Z" fill="#808000"/><path d="M291.5 452.7L296.6 462.1L286.4 462.1Z" fill="#808000"/><path d="M299.1 452.7L304.2 462.1L294.0 462.1Z" fill="#808000"/><path d="M306.7 452.7L311.8 462.1L301.6 462.1Z" fill="#808000"/><path d="M314.2 452.7L319.4 462.1L309.1 462.1Z" fill="#808000"/><path d="M321.8 452.7L326.9 462.1L316.7 462.1Z" fill="#808000"/><path d="M329.4 452.7L334.5 462.1L324.3 462.1Z" fill="#808000"/><path d="M337.0 452.7L342.1 462.1L331.9 462.1Z" fill="#808000"/><path d="M344.6 452.7L349.7 462.1L339.4 462.1Z" fill="#808000"/><path d="M352.1 452.7L357.2 462.1L347.0 462.1Z" fill="#808000"/><path d="M359.7 452.7L364.8 462.1L354.6 462.1Z" fill="#808000"/><path d="M367.3 452.7L372.4 462.1L362.2 462.1Z" fill="#808000"/><path d="M374.9 452.7L380.0 462.1L369.8 462.1Z" fill="#808000"/><path d="M382.4 452.7L387.5 462.1L377.3 462.1Z" fill="#808000"/><path d="M390.0 452.7L395.1 462.1L384.9 462.1Z" fill="#808000"/><path d="M397.6 452.7L402.7 462.1L392.5 462.1Z" fill="#808000"/><path d="M405.2 452.7L410.3 462.1L400.1 462.1Z" fill="#808000"/><path d="M412.7 452.7L417.8 462.1L407.6 462.1Z" fill="#808000"/><path d="M420.3 452.7L425.4 462.1L415.2 462.1Z" fill="#808000"/><path d="M427.9 452.7L433.0 462.1L422.8 462.1Z" fill="#808000"/><path d="M435.5 452.7L440.6 462.1L430.4 462.1Z" fill="#808000"/><path d="M443.0 452.7L448.1 462.1L437.9 462.1Z" fill="#808000"/><path d="M450.6 452.7L455.7 462.1L445.5 462.1Z" fill="#808000"/><path d="M458.2 452.7L463.3 462.1L453.1 462.1Z" fill="#808000"/><path d="M465.8 451.8L470.9 461.2L460.6 461.2Z" fill="#808000"/><path d="M473.3 448.0L478.4 457.4L468.2 457.4Z" fill="#808000"/><path d="M480.9 436.1L486.0 445.5L475.8 445.5Z" fill="#808000"/><path d="M488.5 418.1L493.6 427.5L483.4 427.5Z" fill="#808000"/><path d="M496.1 396.2L501.2 405.6L490.9 405.6Z" fill="#808000"/><path d="M503.6 371.6L508.7 381.0L498.5 381.0Z" fill="#808000"/><path d="M511.2 345.3L516.3 354.7L506.1 354.7Z" fill="#808000"/><path d="M518.8 318.0L523.9 327.4L513.7 327.4Z" fill="#808000"/><path d="M526.4 289.0L531.5 298.4L521.3 298.4Z" fill="#808000"/><path d="M533.9 258.8L539.0 268.2L528.8 268.2Z" fill="#808000"/><path d="M541.5 228.3L546.6 237.7L536.4 237.7Z" fill="#808000"/><path d="M549.1 197.3L554.2 206.7L544.0 206.7Z" fill="#808000"/><path d="M556.7 163.2L561.8 172.6L551.6 172.6Z" fill="#808000"/><path d="M564.2 126.5L569.3 135.9L559.1 135.9Z" fill="#808000"/><path d="M571.8 91.3L576.9 100.7L566.7 100.7Z" fill="#808000"/><path d="M579.4 59.0L584.5 68.4L574.3 68.4Z" fill="#808000"/><path d="M587.0 23.5L592.1 32.9L581.9 32.9Z" fill="#808000"/><path d="M594.5 -12.0L599.6 -2.6L589.4 -2.6Z" fill="#808000"/>
<polyline points="87.0,458.0 94.6,458.0 102.2,458.0 109.7,458.0 117.3,458.0 124.9,458.0 132.5,458.0 140.0,458.0 147.6,458.0 155.2,458.0 162.8,458.0 170.3,458.0 177.9,458.0 185.5,458.0 193.1,458.0 200.6,458.0 208.2,458.0 215.8,458.0 223.3,458.0 230.9,458.0 238.5,458.0 246.1,458.0 253.7,458.0 261.2,458.0 268.8,458.0 276.4,458.0 284.0,458.0 291.5,458.0 299.1,458.0 306.7,458.0 314.2,458.0 321.8,458.0 329.4,458.0 337.0,458.0 344.6,458.0 352.1,458.0 359.7,458.0 367.3,458.0 374.9,458.0 382.4,458.0 390.0,458.0 397.6,458.0 405.2,458.0 412.7,458.0 420.3,458.0 427.9,458.0 435.5,458.0 443.0,458.0 450.6,458.0 458.2,457.4 465.8,455.3 473.3,446.2 480.9,432.5 488.5,408.6 496.1,378.7 503.6,344.9 511.2,309.1 518.8,270.9 526.4,231.6 533.9,191.0 541.5,149.0 549.1,104.9 556.7,61.1 564.2,17.6 571.8,-26.0" fill="none" stroke="#800000" stroke-width="1.5" stroke-linejoin="round"/>
<path d="M87.0 453.2L91.5 458.0L87.0 462.8L82.5 458.0Z" fill="#fff" stroke="#800000" stroke-width="1.4"/><path d="M87.0 452.5L87.0 463.5L81.8 458.0Z" fill="#800000"/><path d="M94.6 453.2L99.1 458.0L94.6 462.8L90.1 458.0Z" fill="#fff" stroke="#800000" stroke-width="1.4"/><path d="M94.6 452.5L94.6 463.5L89.4 458.0Z" fill="#800000"/><path d="M102.2 453.2L106.7 458.0L102.2 462.8L97.7 458.0Z" fill="#fff" stroke="#800000" stroke-width="1.4"/><path d="M102.2 452.5L102.2 463.5L97.0 458.0Z" fill="#800000"/><path d="M109.7 453.2L114.2 458.0L109.7 462.8L105.2 458.0Z" fill="#fff" stroke="#800000" stroke-width="1.4"/><path d="M109.7 452.5L109.7 463.5L104.5 458.0Z" fill="#800000"/><path d="M117.3 453.2L121.8 458.0L117.3 462.8L112.8 458.0Z" fill="#fff" stroke="#800000" stroke-width="1.4"/><path d="M117.3 452.5L117.3 463.5L112.1 458.0Z" fill="#800000"/><path d="M124.9 453.2L129.4 458.0L124.9 462.8L120.4 458.0Z" fill="#fff" stroke="#800000" stroke-width="1.4"/><path d="M124.9 452.5L124.9 463.5L119.7 458.0Z" fill="#800000"/><path d="M132.5 453.2L137.0 458.0L132.5 462.8L128.0 458.0Z" fill="#fff" stroke="#800000" stroke-width="1.4"/><path d="M132.5 452.5L132.5 463.5L127.3 458.0Z" fill="#800000"/><path d="M140.0 453.2L144.5 458.0L140.0 462.8L135.5 458.0Z" fill="#fff" stroke="#800000" stroke-width="1.4"/><path d="M140.0 452.5L140.0 463.5L134.8 458.0Z" fill="#800000"/><path d="M147.6 453.2L152.1 458.0L147.6 462.8L143.1 458.0Z" fill="#fff" stroke="#800000" stroke-width="1.4"/><path d="M147.6 452.5L147.6 463.5L142.4 458.0Z" fill="#800000"/><path d="M155.2 453.2L159.7 458.0L155.2 462.8L150.7 458.0Z" fill="#fff" stroke="#800000" stroke-width="1.4"/><path d="M155.2 452.5L155.2 463.5L150.0 458.0Z" fill="#800000"/><path d="M162.8 453.2L167.2 458.0L162.8 462.8L158.2 458.0Z" fill="#fff" stroke="#800000" stroke-width="1.4"/><path d="M162.8 452.5L162.8 463.5L157.6 458.0Z" fill="#800000"/><path d="M170.3 453.2L174.8 458.0L170.3 462.8L165.8 458.0Z" fill="#fff" stroke="#800000" stroke-width="1.4"/><path d="M170.3 452.5L170.3 463.5L165.1 458.0Z" fill="#800000"/><path d="M177.9 453.2L182.4 458.0L177.9 462.8L173.4 458.0Z" fill="#fff" stroke="#800000" stroke-width="1.4"/><path d="M177.9 452.5L177.9 463.5L172.7 458.0Z" fill="#800000"/><path d="M185.5 453.2L190.0 458.0L185.5 462.8L181.0 458.0Z" fill="#fff" stroke="#800000" stroke-width="1.4"/><path d="M185.5 452.5L185.5 463.5L180.3 458.0Z" fill="#800000"/><path d="M193.1 453.2L197.6 458.0L193.1 462.8L188.6 458.0Z" fill="#fff" stroke="#800000" stroke-width="1.4"/><path d="M193.1 452.5L193.1 463.5L187.9 458.0Z" fill="#800000"/><path d="M200.6 453.2L205.1 458.0L200.6 462.8L196.1 458.0Z" fill="#fff" stroke="#800000" stroke-width="1.4"/><path d="M200.6 452.5L200.6 463.5L195.4 458.0Z" fill="#800000"/><path d="M208.2 453.2L212.7 458.0L208.2 462.8L203.7 458.0Z" fill="#fff" stroke="#800000" stroke-width="1.4"/><path d="M208.2 452.5L208.2 463.5L203.0 458.0Z" fill="#800000"/><path d="M215.8 453.2L220.3 458.0L215.8 462.8L211.3 458.0Z" fill="#fff" stroke="#800000" stroke-width="1.4"/><path d="M215.8 452.5L215.8 463.5L210.6 458.0Z" fill="#800000"/><path d="M223.3 453.2L227.8 458.0L223.3 462.8L218.8 458.0Z" fill="#fff" stroke="#800000" stroke-width="1.4"/><path d="M223.3 452.5L223.3 463.5L218.2 458.0Z" fill="#800000"/><path d="M230.9 453.2L235.4 458.0L230.9 462.8L226.4 458.0Z" fill="#fff" stroke="#800000" stroke-width="1.4"/><path d="M230.9 452.5L230.9 463.5L225.7 458.0Z" fill="#800000"/><path d="M238.5 453.2L243.0 458.0L238.5 462.8L234.0 458.0Z" fill="#fff" stroke="#800000" stroke-width="1.4"/><path d="M238.5 452.5L238.5 463.5L233.3 458.0Z" fill="#800000"/><path d="M246.1 453.2L250.6 458.0L246.1 462.8L241.6 458.0Z" fill="#fff" stroke="#800000" stroke-width="1.4"/><path d="M246.1 452.5L246.1 463.5L240.9 458.0Z" fill="#800000"/><path d="M253.7 453.2L258.2 458.0L253.7 462.8L249.2 458.0Z" fill="#fff" stroke="#800000" stroke-width="1.4"/><path d="M253.7 452.5L253.7 463.5L248.5 458.0Z" fill="#800000"/><path d="M261.2 453.2L265.7 458.0L261.2 462.8L256.7 458.0Z" fill="#fff" stroke="#800000" stroke-width="1.4"/><path d="M261.2 452.5L261.2 463.5L256.0 458.0Z" fill="#800000"/><path d="M268.8 453.2L273.3 458.0L268.8 462.8L264.3 458.0Z" fill="#fff" stroke="#800000" stroke-width="1.4"/><path d="M268.8 452.5L268.8 463.5L263.6 458.0Z" fill="#800000"/><path d="M276.4 453.2L280.9 458.0L276.4 462.8L271.9 458.0Z" fill="#fff" stroke="#800000" stroke-width="1.4"/><path d="M276.4 452.5L276.4 463.5L271.2 458.0Z" fill="#800000"/><path d="M284.0 453.2L288.5 458.0L284.0 462.8L279.5 458.0Z" fill="#fff" stroke="#800000" stroke-width="1.4"/><path d="M284.0 452.5L284.0 463.5L278.8 458.0Z" fill="#800000"/><path d="M291.5 453.2L296.0 458.0L291.5 462.8L287.0 458.0Z" fill="#fff" stroke="#800000" stroke-width="1.4"/><path d="M291.5 452.5L291.5 463.5L286.3 458.0Z" fill="#800000"/><path d="M299.1 453.2L303.6 458.0L299.1 462.8L294.6 458.0Z" fill="#fff" stroke="#800000" stroke-width="1.4"/><path d="M299.1 452.5L299.1 463.5L293.9 458.0Z" fill="#800000"/><path d="M306.7 453.2L311.2 458.0L306.7 462.8L302.2 458.0Z" fill="#fff" stroke="#800000" stroke-width="1.4"/><path d="M306.7 452.5L306.7 463.5L301.5 458.0Z" fill="#800000"/><path d="M314.2 453.2L318.8 458.0L314.2 462.8L309.8 458.0Z" fill="#fff" stroke="#800000" stroke-width="1.4"/><path d="M314.2 452.5L314.2 463.5L309.1 458.0Z" fill="#800000"/><path d="M321.8 453.2L326.3 458.0L321.8 462.8L317.3 458.0Z" fill="#fff" stroke="#800000" stroke-width="1.4"/><path d="M321.8 452.5L321.8 463.5L316.6 458.0Z" fill="#800000"/><path d="M329.4 453.2L333.9 458.0L329.4 462.8L324.9 458.0Z" fill="#fff" stroke="#800000" stroke-width="1.4"/><path d="M329.4 452.5L329.4 463.5L324.2 458.0Z" fill="#800000"/><path d="M337.0 453.2L341.5 458.0L337.0 462.8L332.5 458.0Z" fill="#fff" stroke="#800000" stroke-width="1.4"/><path d="M337.0 452.5L337.0 463.5L331.8 458.0Z" fill="#800000"/><path d="M344.6 453.2L349.1 458.0L344.6 462.8L340.1 458.0Z" fill="#fff" stroke="#800000" stroke-width="1.4"/><path d="M344.6 452.5L344.6 463.5L339.4 458.0Z" fill="#800000"/><path d="M352.1 453.2L356.6 458.0L352.1 462.8L347.6 458.0Z" fill="#fff" stroke="#800000" stroke-width="1.4"/><path d="M352.1 452.5L352.1 463.5L346.9 458.0Z" fill="#800000"/><path d="M359.7 453.2L364.2 458.0L359.7 462.8L355.2 458.0Z" fill="#fff" stroke="#800000" stroke-width="1.4"/><path d="M359.7 452.5L359.7 463.5L354.5 458.0Z" fill="#800000"/><path d="M367.3 453.2L371.8 458.0L367.3 462.8L362.8 458.0Z" fill="#fff" stroke="#800000" stroke-width="1.4"/><path d="M367.3 452.5L367.3 463.5L362.1 458.0Z" fill="#800000"/><path d="M374.9 453.2L379.4 458.0L374.9 462.8L370.4 458.0Z" fill="#fff" stroke="#800000" stroke-width="1.4"/><path d="M374.9 452.5L374.9 463.5L369.7 458.0Z" fill="#800000"/><path d="M382.4 453.2L386.9 458.0L382.4 462.8L377.9 458.0Z" fill="#fff" stroke="#800000" stroke-width="1.4"/><path d="M382.4 452.5L382.4 463.5L377.2 458.0Z" fill="#800000"/><path d="M390.0 453.2L394.5 458.0L390.0 462.8L385.5 458.0Z" fill="#fff" stroke="#800000" stroke-width="1.4"/><path d="M390.0 452.5L390.0 463.5L384.8 458.0Z" fill="#800000"/><path d="M397.6 453.2L402.1 458.0L397.6 462.8L393.1 458.0Z" fill="#fff" stroke="#800000" stroke-width="1.4"/><path d="M397.6 452.5L397.6 463.5L392.4 458.0Z" fill="#800000"/><path d="M405.2 453.2L409.7 458.0L405.2 462.8L400.7 458.0Z" fill="#fff" stroke="#800000" stroke-width="1.4"/><path d="M405.2 452.5L405.2 463.5L400.0 458.0Z" fill="#800000"/><path d="M412.7 453.2L417.2 458.0L412.7 462.8L408.2 458.0Z" fill="#fff" stroke="#800000" stroke-width="1.4"/><path d="M412.7 452.5L412.7 463.5L407.5 458.0Z" fill="#800000"/><path d="M420.3 453.2L424.8 458.0L420.3 462.8L415.8 458.0Z" fill="#fff" stroke="#800000" stroke-width="1.4"/><path d="M420.3 452.5L420.3 463.5L415.1 458.0Z" fill="#800000"/><path d="M427.9 453.2L432.4 458.0L427.9 462.8L423.4 458.0Z" fill="#fff" stroke="#800000" stroke-width="1.4"/><path d="M427.9 452.5L427.9 463.5L422.7 458.0Z" fill="#800000"/><path d="M435.5 453.2L440.0 458.0L435.5 462.8L431.0 458.0Z" fill="#fff" stroke="#800000" stroke-width="1.4"/><path d="M435.5 452.5L435.5 463.5L430.3 458.0Z" fill="#800000"/><path d="M443.0 453.2L447.5 458.0L443.0 462.8L438.5 458.0Z" fill="#fff" stroke="#800000" stroke-width="1.4"/><path d="M443.0 452.5L443.0 463.5L437.8 458.0Z" fill="#800000"/><path d="M450.6 453.2L455.1 458.0L450.6 462.8L446.1 458.0Z" fill="#fff" stroke="#800000" stroke-width="1.4"/><path d="M450.6 452.5L450.6 463.5L445.4 458.0Z" fill="#800000"/><path d="M458.2 452.6L462.7 457.4L458.2 462.2L453.7 457.4Z" fill="#fff" stroke="#800000" stroke-width="1.4"/><path d="M458.2 451.9L458.2 462.9L453.0 457.4Z" fill="#800000"/><path d="M465.8 450.5L470.2 455.3L465.8 460.1L461.2 455.3Z" fill="#fff" stroke="#800000" stroke-width="1.4"/><path d="M465.8 449.8L465.8 460.8L460.6 455.3Z" fill="#800000"/><path d="M473.3 441.4L477.8 446.2L473.3 451.0L468.8 446.2Z" fill="#fff" stroke="#800000" stroke-width="1.4"/><path d="M473.3 440.7L473.3 451.7L468.1 446.2Z" fill="#800000"/><path d="M480.9 427.7L485.4 432.5L480.9 437.3L476.4 432.5Z" fill="#fff" stroke="#800000" stroke-width="1.4"/><path d="M480.9 427.0L480.9 438.0L475.7 432.5Z" fill="#800000"/><path d="M488.5 403.8L493.0 408.6L488.5 413.4L484.0 408.6Z" fill="#fff" stroke="#800000" stroke-width="1.4"/><path d="M488.5 403.1L488.5 414.1L483.3 408.6Z" fill="#800000"/><path d="M496.1 373.9L500.6 378.7L496.1 383.5L491.6 378.7Z" fill="#fff" stroke="#800000" stroke-width="1.4"/><path d="M496.1 373.2L496.1 384.2L490.9 378.7Z" fill="#800000"/><path d="M503.6 340.1L508.1 344.9L503.6 349.7L499.1 344.9Z" fill="#fff" stroke="#800000" stroke-width="1.4"/><path d="M503.6 339.4L503.6 350.4L498.4 344.9Z" fill="#800000"/><path d="M511.2 304.3L515.7 309.1L511.2 313.9L506.7 309.1Z" fill="#fff" stroke="#800000" stroke-width="1.4"/><path d="M511.2 303.6L511.2 314.6L506.0 309.1Z" fill="#800000"/><path d="M518.8 266.1L523.3 270.9L518.8 275.7L514.3 270.9Z" fill="#fff" stroke="#800000" stroke-width="1.4"/><path d="M518.8 265.4L518.8 276.4L513.6 270.9Z" fill="#800000"/><path d="M526.4 226.8L530.9 231.6L526.4 236.4L521.9 231.6Z" fill="#fff" stroke="#800000" stroke-width="1.4"/><path d="M526.4 226.1L526.4 237.1L521.2 231.6Z" fill="#800000"/><path d="M533.9 186.2L538.4 191.0L533.9 195.8L529.4 191.0Z" fill="#fff" stroke="#800000" stroke-width="1.4"/><path d="M533.9 185.5L533.9 196.5L528.7 191.0Z" fill="#800000"/><path d="M541.5 144.2L546.0 149.0L541.5 153.8L537.0 149.0Z" fill="#fff" stroke="#800000" stroke-width="1.4"/><path d="M541.5 143.5L541.5 154.5L536.3 149.0Z" fill="#800000"/><path d="M549.1 100.1L553.6 104.9L549.1 109.7L544.6 104.9Z" fill="#fff" stroke="#800000" stroke-width="1.4"/><path d="M549.1 99.4L549.1 110.4L543.9 104.9Z" fill="#800000"/><path d="M556.7 56.3L561.2 61.1L556.7 65.9L552.2 61.1Z" fill="#fff" stroke="#800000" stroke-width="1.4"/><path d="M556.7 55.6L556.7 66.6L551.5 61.1Z" fill="#800000"/><path d="M564.2 12.8L568.7 17.6L564.2 22.4L559.7 17.6Z" fill="#fff" stroke="#800000" stroke-width="1.4"/><path d="M564.2 12.1L564.2 23.1L559.0 17.6Z" fill="#800000"/><path d="M571.8 -30.8L576.3 -26.0L571.8 -21.2L567.3 -26.0Z" fill="#fff" stroke="#800000" stroke-width="1.4"/><path d="M571.8 -31.5L571.8 -20.5L566.6 -26.0Z" fill="#800000"/>
<polyline points="87.0,458.0 94.6,458.0 102.2,458.0 109.7,458.0 117.3,458.0 124.9,458.0 132.5,458.0 140.0,458.0 147.6,458.0 155.2,458.0 162.8,458.0 170.3,458.0 177.9,458.0 185.5,458.0 193.1,458.0 200.6,458.0 208.2,458.0 215.8,458.0 223.3,458.0 230.9,458.0 238.5,458.0 246.1,458.0 253.7,458.0 261.2,458.0 268.8,458.0 276.4,458.0 284.0,458.0 291.5,458.0 299.1,458.0 306.7,458.0 314.2,458.0 321.8,458.0 329.4,458.0 337.0,458.0 344.6,458.0 352.1,458.0 359.7,458.0 367.3,458.0 374.9,458.0 382.4,458.0 390.0,458.0 397.6,458.0 405.2,458.0 412.7,458.0 420.3,458.0 427.9,458.0 435.5,458.0 443.0,458.0 450.6,458.0 458.2,457.4 465.8,455.3 473.3,445.9 480.9,432.2 488.5,408.3 496.1,378.7 503.6,345.5 511.2,310.3 518.8,274.2 526.4,236.0 533.9,197.8 541.5,156.7 549.1,115.2 556.7,72.9 564.2,31.5 571.8,-11.2" fill="none" stroke="#008000" stroke-width="1.5" stroke-linejoin="round"/>
<path d="M81.3 458.0L91.7 452.3L91.7 463.7Z" fill="#008000"/><path d="M88.9 458.0L99.2 452.3L99.2 463.7Z" fill="#008000"/><path d="M96.5 458.0L106.8 452.3L106.8 463.7Z" fill="#008000"/><path d="M104.1 458.0L114.4 452.3L114.4 463.7Z" fill="#008000"/><path d="M111.6 458.0L122.0 452.3L122.0 463.7Z" fill="#008000"/><path d="M119.2 458.0L129.5 452.3L129.5 463.7Z" fill="#008000"/><path d="M126.8 458.0L137.1 452.3L137.1 463.7Z" fill="#008000"/><path d="M134.4 458.0L144.7 452.3L144.7 463.7Z" fill="#008000"/><path d="M141.9 458.0L152.2 452.3L152.2 463.7Z" fill="#008000"/><path d="M149.5 458.0L159.8 452.3L159.8 463.7Z" fill="#008000"/><path d="M157.1 458.0L167.4 452.3L167.4 463.7Z" fill="#008000"/><path d="M164.7 458.0L175.0 452.3L175.0 463.7Z" fill="#008000"/><path d="M172.3 458.0L182.6 452.3L182.6 463.7Z" fill="#008000"/><path d="M179.8 458.0L190.1 452.3L190.1 463.7Z" fill="#008000"/><path d="M187.4 458.0L197.7 452.3L197.7 463.7Z" fill="#008000"/><path d="M195.0 458.0L205.3 452.3L205.3 463.7Z" fill="#008000"/><path d="M202.5 458.0L212.8 452.3L212.8 463.7Z" fill="#008000"/><path d="M210.1 458.0L220.4 452.3L220.4 463.7Z" fill="#008000"/><path d="M217.7 458.0L228.0 452.3L228.0 463.7Z" fill="#008000"/><path d="M225.3 458.0L235.6 452.3L235.6 463.7Z" fill="#008000"/><path d="M232.8 458.0L243.2 452.3L243.2 463.7Z" fill="#008000"/><path d="M240.4 458.0L250.7 452.3L250.7 463.7Z" fill="#008000"/><path d="M248.0 458.0L258.3 452.3L258.3 463.7Z" fill="#008000"/><path d="M255.6 458.0L265.9 452.3L265.9 463.7Z" fill="#008000"/><path d="M263.2 458.0L273.5 452.3L273.5 463.7Z" fill="#008000"/><path d="M270.7 458.0L281.0 452.3L281.0 463.7Z" fill="#008000"/><path d="M278.3 458.0L288.6 452.3L288.6 463.7Z" fill="#008000"/><path d="M285.9 458.0L296.2 452.3L296.2 463.7Z" fill="#008000"/><path d="M293.5 458.0L303.8 452.3L303.8 463.7Z" fill="#008000"/><path d="M301.0 458.0L311.3 452.3L311.3 463.7Z" fill="#008000"/><path d="M308.6 458.0L318.9 452.3L318.9 463.7Z" fill="#008000"/><path d="M316.2 458.0L326.5 452.3L326.5 463.7Z" fill="#008000"/><path d="M323.8 458.0L334.0 452.3L334.0 463.7Z" fill="#008000"/><path d="M331.3 458.0L341.6 452.3L341.6 463.7Z" fill="#008000"/><path d="M338.9 458.0L349.2 452.3L349.2 463.7Z" fill="#008000"/><path d="M346.5 458.0L356.8 452.3L356.8 463.7Z" fill="#008000"/><path d="M354.1 458.0L364.3 452.3L364.3 463.7Z" fill="#008000"/><path d="M361.6 458.0L371.9 452.3L371.9 463.7Z" fill="#008000"/><path d="M369.2 458.0L379.5 452.3L379.5 463.7Z" fill="#008000"/><path d="M376.8 458.0L387.1 452.3L387.1 463.7Z" fill="#008000"/><path d="M384.4 458.0L394.6 452.3L394.6 463.7Z" fill="#008000"/><path d="M391.9 458.0L402.2 452.3L402.2 463.7Z" fill="#008000"/><path d="M399.5 458.0L409.8 452.3L409.8 463.7Z" fill="#008000"/><path d="M407.1 458.0L417.4 452.3L417.4 463.7Z" fill="#008000"/><path d="M414.7 458.0L424.9 452.3L424.9 463.7Z" fill="#008000"/><path d="M422.2 458.0L432.5 452.3L432.5 463.7Z" fill="#008000"/><path d="M429.8 458.0L440.1 452.3L440.1 463.7Z" fill="#008000"/><path d="M437.4 458.0L447.7 452.3L447.7 463.7Z" fill="#008000"/><path d="M445.0 458.0L455.3 452.3L455.3 463.7Z" fill="#008000"/><path d="M452.5 457.4L462.8 451.7L462.8 463.1Z" fill="#008000"/><path d="M460.1 455.3L470.4 449.6L470.4 461.0Z" fill="#008000"/><path d="M467.7 445.9L478.0 440.2L478.0 451.6Z" fill="#008000"/><path d="M475.3 432.2L485.6 426.5L485.6 437.9Z" fill="#008000"/><path d="M482.8 408.3L493.1 402.6L493.1 414.0Z" fill="#008000"/><path d="M490.4 378.7L500.7 373.0L500.7 384.4Z" fill="#008000"/><path d="M498.0 345.5L508.3 339.8L508.3 351.2Z" fill="#008000"/><path d="M505.6 310.3L515.9 304.6L515.9 316.0Z" fill="#008000"/><path d="M513.1 274.2L523.4 268.5L523.4 279.9Z" fill="#008000"/><path d="M520.7 236.0L531.0 230.3L531.0 241.7Z" fill="#008000"/><path d="M528.3 197.8L538.6 192.1L538.6 203.5Z" fill="#008000"/><path d="M535.9 156.7L546.1 151.0L546.1 162.4Z" fill="#008000"/><path d="M543.4 115.2L553.7 109.5L553.7 120.9Z" fill="#008000"/><path d="M551.0 72.9L561.3 67.2L561.3 78.6Z" fill="#008000"/><path d="M558.6 31.5L568.9 25.8L568.9 37.2Z" fill="#008000"/><path d="M566.1 -11.2L576.4 -16.9L576.4 -5.5Z" fill="#008000"/>
</g>
<path d="M99 38.2H155" stroke="#ff0000" stroke-width="1.5"/>
<rect x="123.2" y="34.4" width="7.6" height="7.6" fill="#ff0000"/>
<text font-size="25" x="161.5" y="46.7">c-FCLED</text>
<path d="M99 69.0H155" stroke="#0000ff" stroke-width="1.5"/>
<circle cx="127.0" cy="69.0" r="4.2" fill="#0000ff"/>
<text font-size="25" x="161.5" y="77.5">n-buried-FCLED</text>
<path d="M99 99.5H155" stroke="#808000" stroke-width="1.5"/>
<path d="M127.0 94.2L132.1 103.6L121.9 103.6Z" fill="#808000"/>
<text font-size="25" x="161.5" y="108.0">p-exp-FCLED 300 nm</text>
<path d="M99 130.2H155" stroke="#800000" stroke-width="1.5"/>
<path d="M127.0 125.4L131.5 130.2L127.0 135.0L122.5 130.2Z" fill="#fff" stroke="#800000" stroke-width="1.4"/><path d="M127.0 124.7L127.0 135.7L121.8 130.2Z" fill="#800000"/>
<text font-size="25" x="161.5" y="138.7">p-exp-FCLED 375 nm</text>
<path d="M99 161.0H155" stroke="#008000" stroke-width="1.5"/>
<path d="M121.3 161.0L131.7 155.3L131.7 166.7Z" fill="#008000"/>
<text font-size="25" x="161.5" y="169.5">TiO<tspan font-size="16.5" dy="9">2</tspan><tspan dy="-9"> adhesion-FCLED</tspan></text>
</svg></body></html>
